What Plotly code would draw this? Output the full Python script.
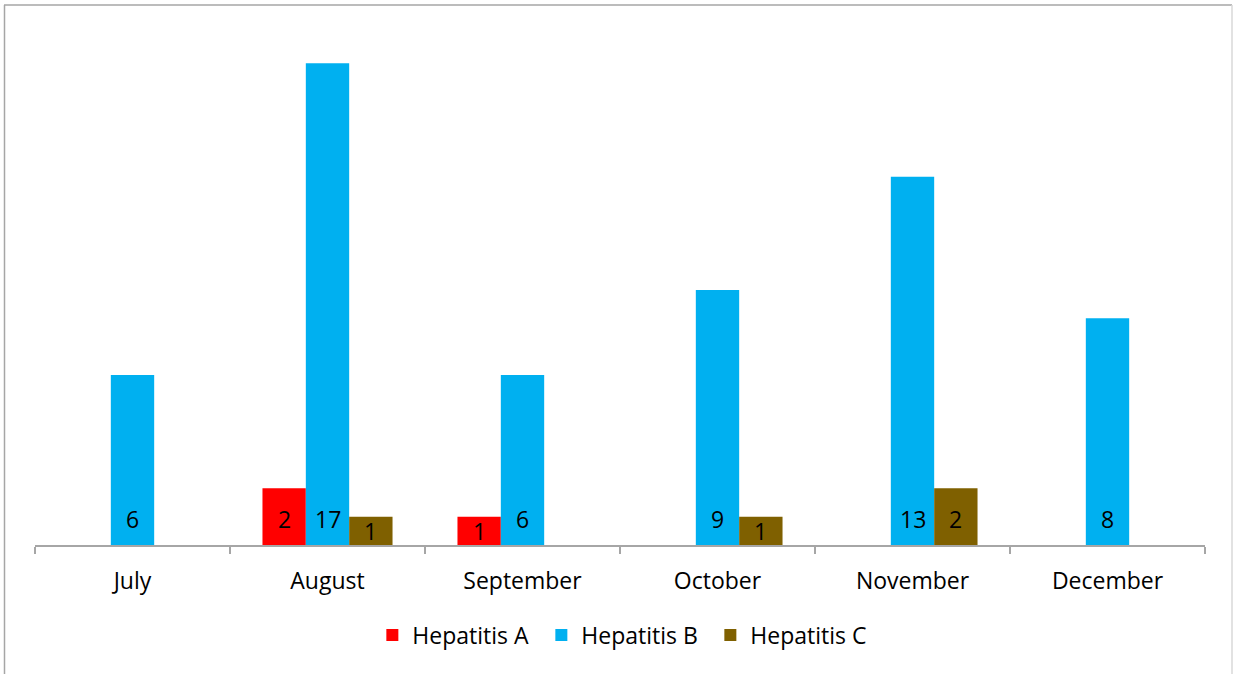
import plotly.graph_objects as go

months = ["July", "August", "September", "October", "November", "December"]
hep_a = [None, 2, 1, None, None, None]
hep_b = [6, 17, 6, 9, 13, 8]
hep_c = [None, 1, None, 1, 2, None]
series_names = ["Hepatitis A", "Hepatitis B", "Hepatitis C"]
colors = ["#FF0000", "#00B0F0", "#7F6000"]

W, H = 1234, 674
ML, MR, MT, MB = 35, 29, 35, 129
PW, PH = W - ML - MR, H - MT - MB

fig = go.Figure()
all_series = [hep_a, hep_b, hep_c]
for name, vals, col in zip(series_names, all_series, colors):
    fig.add_trace(go.Bar(
        x=months, y=vals, name=name, marker=dict(color=col, line=dict(width=0)),
        hoverinfo="skip",
    ))

font = "Open Sans, Noto Sans, sans-serif"
bar_px = PW / len(months) * (1 - 0.333) / 3
annotations = []
for k, vals in enumerate(all_series):
    for m, v in zip(months, vals):
        if v is None:
            continue
        annotations.append(dict(
            x=m, y=min(v / 2, 0.92), xref="x", yref="y", text=str(v),
            showarrow=False, xshift=(k - 1) * bar_px, yanchor="middle",
            font=dict(family=font, size=23, color="#000000"),
        ))

def px_x(p):
    return (p - ML) / PW

def px_y(p):
    return (H - MB - p) / PH

shapes = [
    dict(type="line", xref="paper", yref="paper", x0=px_x(4), x1=px_x(1232), y0=px_y(5), y1=px_y(5),
         line=dict(color="#A6A6A6", width=1.5)),
    dict(type="line", xref="paper", yref="paper", x0=px_x(4.5), x1=px_x(4.5), y0=px_y(5), y1=px_y(680),
         line=dict(color="#A6A6A6", width=1.5)),
    dict(type="line", xref="paper", yref="paper", x0=px_x(1232), x1=px_x(1232), y0=px_y(5), y1=px_y(680),
         line=dict(color="#D9D9D9", width=1.5)),
]

fig.update_layout(
    width=W, height=H,
    margin=dict(l=ML, r=MR, t=MT, b=MB),
    paper_bgcolor="white", plot_bgcolor="white",
    barmode="group", bargap=0.333, bargroupgap=0,
    font=dict(family=font, size=22, color="#000000"),
    xaxis=dict(
        showline=True, linecolor="#A6A6A6", linewidth=1.5,
        ticks="outside", tickson="boundaries", ticklen=7, tickcolor="#A6A6A6", tickwidth=1.5,
        ticklabelstandoff=15, showgrid=False, zeroline=False,
        tickfont=dict(family=font, size=23, color="#000000"),
    ),
    yaxis=dict(range=[0, 18], visible=False, showgrid=False, zeroline=False),
    legend=dict(
        orientation="h", x=0.505, xanchor="center", y=px_y(635), yanchor="middle",
        font=dict(family=font, size=23, color="#000000"), itemwidth=30,
        entrywidth=124, entrywidthmode="pixels",
        bgcolor="rgba(0,0,0,0)",
    ),
    showlegend=True,
    annotations=annotations,
    shapes=shapes,
)

fig.write_html("out.html", config={"displayModeBar": False},
               post_script="document.body.style.margin='0';")
